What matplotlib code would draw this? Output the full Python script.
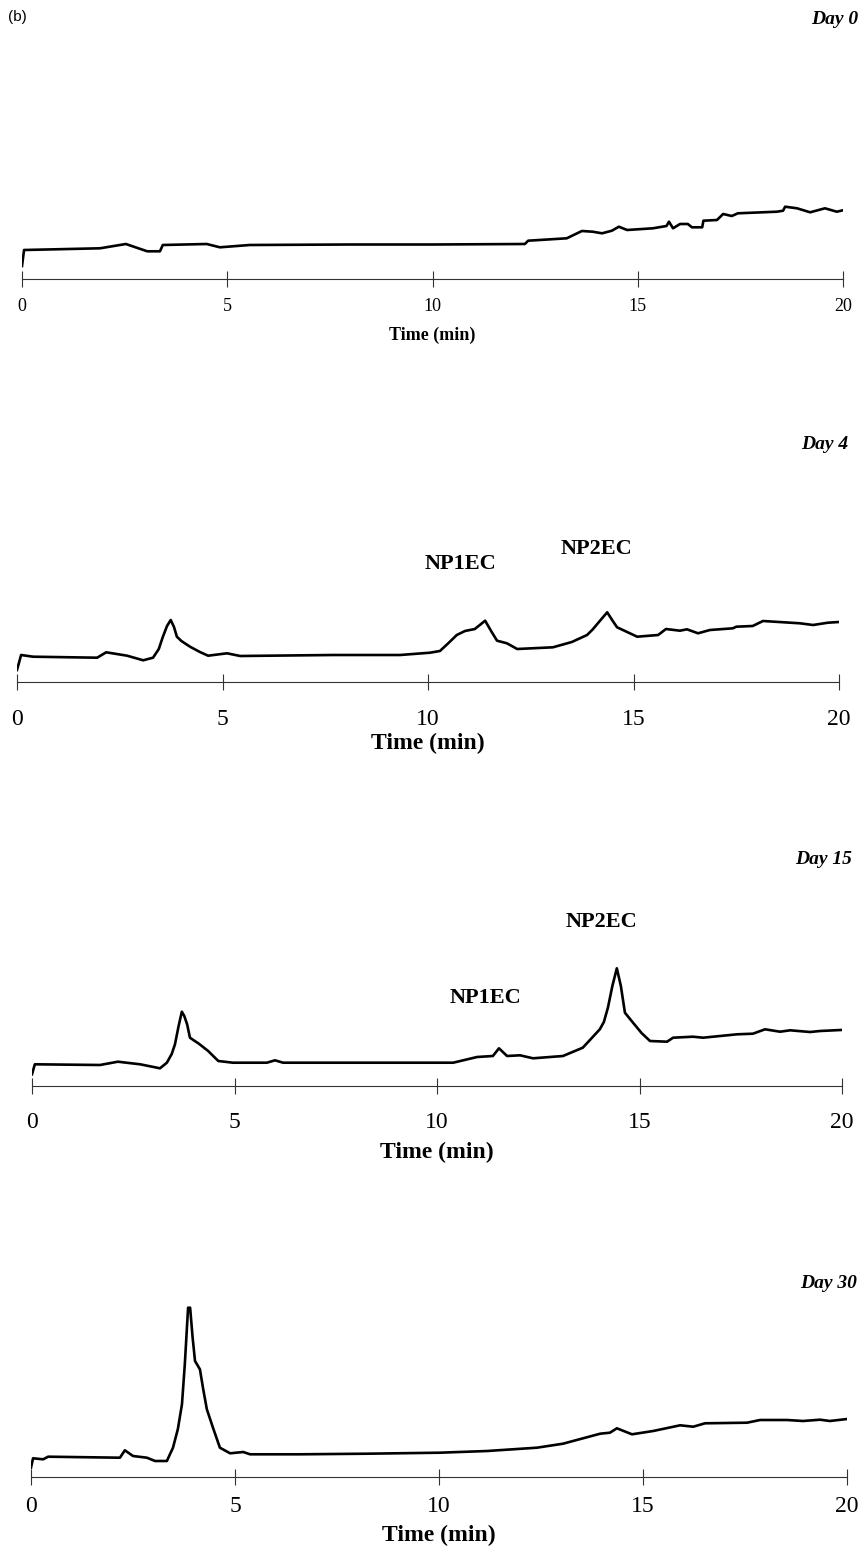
import matplotlib.pyplot as plt

# chromatogram traces (time in min, detector response in arbitrary units)
t_day0 = [0, 0.05, 1.9, 2.53, 3.05, 3.36, 3.43, 4.5, 4.82, 5.55, 8.0, 10.0, 12.25, 12.33,
          13.27, 13.64, 13.9, 14.13, 14.37, 14.54, 14.74, 15.37, 15.7, 15.76, 15.86, 16.03,
          16.22, 16.32, 16.57, 16.6, 16.93, 17.08, 17.29, 17.44, 18.39, 18.54, 18.59, 18.88,
          19.2, 19.56, 19.85, 20.1]
y_day0 = [13, 29, 30.7, 35, 27.7, 27.7, 34, 35, 31.7, 34, 34.5, 34.5, 35, 38.3,
          40.7, 48, 47.3, 45.7, 48.3, 52.3, 49, 50.7, 53, 57.3, 50.7, 55,
          55, 51.7, 51.7, 58.3, 59, 65, 63, 65.7, 67.3, 68.3, 72.3, 70.7,
          66.7, 70.7, 67.3, 69.7]

t_day4 = [0, 0.1, 0.39, 1.95, 2.17, 2.68, 3.07, 3.31, 3.45, 3.55, 3.65, 3.74, 3.82, 3.89,
          4.0, 4.21, 4.45, 4.65, 5.11, 5.43, 7.69, 9.32, 10.05, 10.29, 10.5, 10.7, 10.9,
          11.14, 11.39, 11.55, 11.68, 11.92, 12.17, 13.04, 13.5, 13.87, 14.01, 14.2, 14.36,
          14.48, 14.6, 15.09, 15.6, 15.79, 16.13, 16.3, 16.57, 16.86, 17.42, 17.5, 17.9,
          18.15, 19.05, 19.37, 19.73, 20.12]
y_day4 = [12, 27, 25.3, 24.3, 29.7, 26.3, 21.7, 24.3, 33, 45.3, 56, 62, 55, 45.3,
          41, 35.3, 30, 26.3, 28.7, 26, 27, 27, 29.3, 31, 39, 47, 51,
          53, 61.3, 50, 41.3, 38.7, 33, 34.7, 40, 47, 52.7, 62, 69.7,
          62, 54.7, 45.3, 47, 53, 51.3, 52.7, 48.7, 52, 53.7, 55.3, 56,
          61, 58.7, 57, 59.3, 60.3]

t_day15 = [0, 0.07, 1.68, 2.12, 2.67, 3.16, 3.33, 3.45, 3.53, 3.62, 3.7, 3.76, 3.83, 3.9,
           4.02, 4.12, 4.35, 4.6, 4.96, 5.8, 6.0, 6.2, 7.43, 9.58, 10.4, 10.99, 11.38,
           11.53, 11.73, 12.05, 12.37, 13.11, 13.6, 14.02, 14.12, 14.22, 14.33, 14.44,
           14.54, 14.64, 14.84, 15.05, 15.26, 15.68, 15.83, 16.32, 16.57, 17.41, 17.8,
           18.1, 18.47, 18.72, 19.21, 19.46, 20.12]
y_day15 = [11.7, 21.7, 21, 24.3, 21.7, 17.7, 23.3, 32, 41.7, 60, 74.3, 70, 61.7, 48.3,
           45, 42.3, 35, 25, 23.3, 23.3, 25.7, 23.3, 23.3, 23.3, 23.3, 29, 30,
           37.7, 30, 30.7, 27.7, 30, 38.3, 56.7, 64, 78.3, 100, 117.7,
           100, 73.3, 63.3, 53, 45, 44.3, 48.3, 49.3, 48.3, 51.7, 52.3,
           56.7, 54.3, 55.7, 54, 55, 56.3]

t_day30 = [0, 0.05, 0.3, 0.42, 2.18, 2.3, 2.5, 2.84, 3.04, 3.33, 3.48, 3.6, 3.7, 3.77,
           3.85, 3.9, 3.96, 4.02, 4.14, 4.22, 4.31, 4.46, 4.63, 4.88, 5.2, 5.37, 6.59,
           8.24, 10.02, 11.18, 12.4, 13.04, 13.95, 14.19, 14.36, 14.73, 15.25, 15.91,
           16.23, 16.52, 17.55, 17.87, 18.53, 18.92, 19.34, 19.58, 20.15]
y_day30 = [9.3, 18.7, 17.7, 20.3, 19.3, 26.7, 21, 19.3, 16, 16, 29.3, 48, 72.7, 112.7,
           169.3, 169.3, 140, 116, 107.7, 88, 67.7, 49.3, 29.3, 23.7, 25, 22.7, 22.7,
           23.3, 24.3, 26, 29.3, 33.3, 43.3, 44.3, 48.7, 42.7, 46, 51.7,
           50.3, 53.7, 54.3, 57, 57, 56, 57.3, 56, 58.7]

day_labels = ["Day 0", "Day 4", "Day 15", "Day 30"]
ticks = [0, 5, 10, 15, 20]

W, H = 864, 1555
fig = plt.figure(figsize=(W / 100, H / 100), dpi=100)

# panel placement in pixels: x of t=0, x of t=20, y of the time axis,
# tick font size, label font size, tick pad, label pad
panels = [
    (t_day0, y_day0, 22, 843, 279, 13, 13, 8, 8.5),
    (t_day4, y_day4, 17, 839, 682, 17, 17, 14, 2),
    (t_day15, y_day15, 32, 842, 1086, 17, 17, 13, 6.5),
    (t_day30, y_day30, 31, 847, 1477, 17, 17, 8, 5.5),
]
axes = []
for t, y, x0, x1, yb, tfs, lfs, tpad, lpad in panels:
    ax = fig.add_axes([x0 / W, 1 - yb / H, (x1 - x0) / W, 190 / H])
    ax.plot(t, y, color="black", lw=1.9, solid_joinstyle="round")
    ax.set_xlim(0, 20)
    ax.set_ylim(0, 190)
    for s in ["top", "right", "left"]:
        ax.spines[s].set_visible(False)
    ax.spines["bottom"].set_linewidth(0.8)
    ax.spines["bottom"].set_color("#333333")
    ax.set_yticks([])
    ax.set_xticks(ticks)
    ax.tick_params(axis="x", direction="inout", length=11, width=0.8, color="#333333",
                   labelsize=tfs, pad=tpad)
    for lab in ax.get_xticklabels():
        lab.set_fontfamily("Liberation Serif")
    ax.set_xlabel("Time (min)", fontsize=lfs, fontweight="bold",
                  fontfamily="Liberation Serif", labelpad=lpad)
    axes.append(ax)

fig.text(8 / W, 1 - 17 / H, "(b)", fontsize=11, fontfamily="Liberation Sans",
         ha="left", va="center")

day_pos = [(858, 20), (848, 444), (852, 860), (857, 1283)]
for (px, py), lab in zip(day_pos, day_labels):
    fig.text(px / W, 1 - py / H, lab, fontsize=14, fontweight="bold", fontstyle="italic",
             fontfamily="Liberation Serif", ha="right", va="center")

# peak labels in data coordinates (time, response)
ax4, ax15 = axes[1], axes[2]
ax4.text(10.78, 118, "NP1EC", fontsize=16, fontweight="bold", fontfamily="Liberation Serif",
         ha="center", va="center")
ax4.text(14.1, 133, "NP2EC", fontsize=16, fontweight="bold", fontfamily="Liberation Serif",
         ha="center", va="center")
ax15.text(11.2, 88, "NP1EC", fontsize=16, fontweight="bold", fontfamily="Liberation Serif",
          ha="center", va="center")
ax15.text(14.07, 164, "NP2EC", fontsize=16, fontweight="bold", fontfamily="Liberation Serif",
          ha="center", va="center")

fig.savefig("out.png", dpi=100)
